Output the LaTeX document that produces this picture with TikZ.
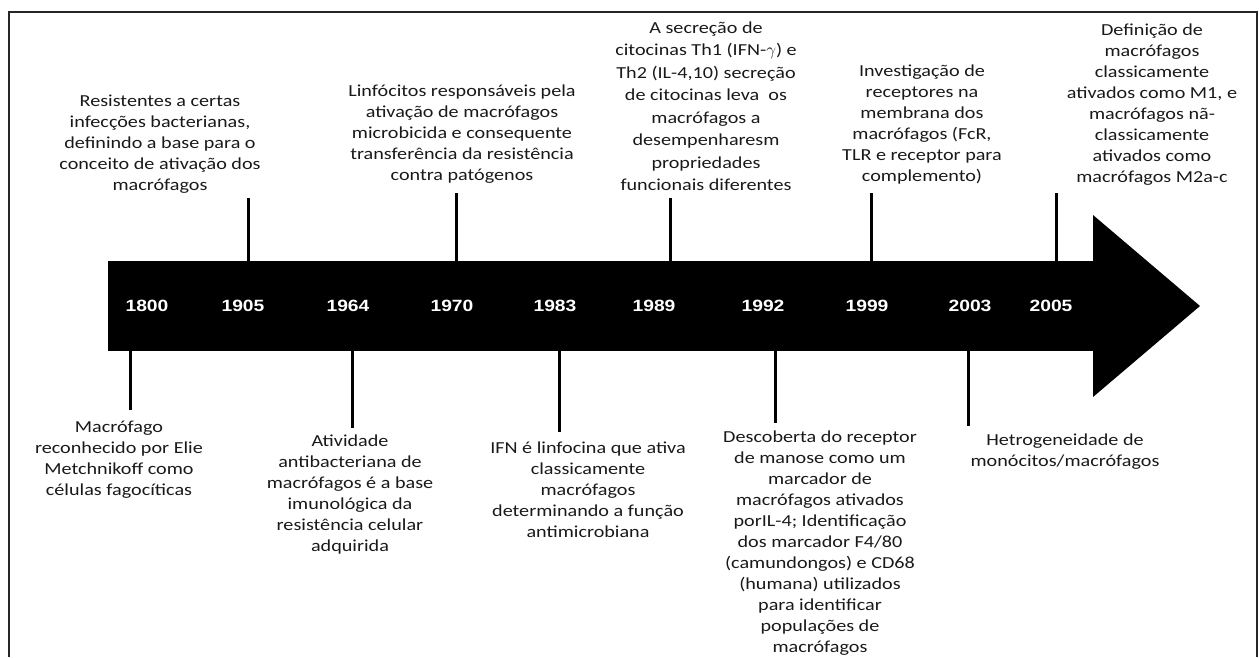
\documentclass[tikz,border=0pt]{standalone}
\usepackage{fontspec}
\setmainfont{Carlito}[FakeStretch=1.2]
\newfontfamily\yearfont{Liberation Sans}[FakeStretch=1.18]
\begin{document}
\begin{tikzpicture}[x=1pt,y=-1pt,
  tick/.style={line width=3pt, black},
  txt/.style={align=center, inner sep=0pt, text=black!90, font=\fontsize{16.8}{21}\selectfont},
  txtwide/.style={txt, font=\fontsize{16.8}{22.5}\selectfont},
  yr/.style={text=white, inner sep=0pt, anchor=base, font=\yearfont\bfseries\fontsize{16.3}{18}\selectfont},
  frame/.style={line width=1.6pt, black!85}]
\useasboundingbox (0,0) rectangle (1259,657);
% frame (open at the bottom)
\coordinate (fA) at (9,657); \coordinate (fB) at (9,12);
\coordinate (fC) at (1257,12); \coordinate (fD) at (1257,657);
\draw[frame] (fA) -- (fB) -- (fC) -- (fD);
% arrow
\node[fill=black, inner sep=0pt, minimum width=985pt, minimum height=90pt, anchor=north west] (bar) at (108,261) {};
\coordinate (hT) at (1093,215); \coordinate (hP) at (1200,306); \coordinate (hB) at (1093,397);
\fill[black] (hT) -- (hP) -- (hB) -- cycle;
\fill[black] (hT |- bar.north) rectangle (hB |- bar.south);
% years
\node[yr] (y1800) at (147,311) {1800};
\node[yr] (y1905) at (243,311) {1905};
\node[yr] (y1964) at (348,311) {1964};
\node[yr] (y1970) at (452,311) {1970};
\node[yr] (y1983) at (555,311) {1983};
\node[yr] (y1989) at (654,311) {1989};
\node[yr] (y1992) at (763,311) {1992};
\node[yr] (y1999) at (867,311) {1999};
\node[yr] (y2003) at (970,311) {2003};
\node[yr] (y2005) at (1051,311) {2005};
% upper ticks
\coordinate (u1905) at (248,198);
\coordinate (u1970) at (456,193);
\coordinate (u1989) at (670,198);
\coordinate (u1999) at (871,193);
\coordinate (u2005) at (1056,193);
\foreach \c in {u1905,u1970,u1989,u1999,u2005} \draw[tick] (\c) -- (\c |- bar.north);
% lower ticks
\coordinate (d1800) at (130,410);
\coordinate (d1964) at (352,428);
\coordinate (d1983) at (559,432);
\coordinate (d1992) at (775,423);
\coordinate (d2003) at (968,426);
\foreach \c in {d1800,d1964,d1983,d1992,d2003} \draw[tick] (\c |- bar.south) -- (\c);
% upper texts
\node[txt, anchor=south] (t1905) at (160,197.3) {\strut Resistentes a certas\\infecções bacterianas,\\definindo a base para o\\conceito de ativação dos\\macrófagos\strut};
\node[txt, anchor=south] (t1970) at (462,187.3) {\strut Linfócitos responsáveis pela\\ativação de macrófagos\\microbicida e consequente\\transferência da resistência\\contra patógenos\strut};
\node[txtwide, anchor=south] (t1989) at (706,197.7) {\strut A secreção de\\citocinas Th1 (IFN-$\gamma$) e\\Th2 (IL-4,10) secreção\\de citocinas leva~ os\\macrófagos a\\desempenharesm\\propriedades\\funcionais diferentes\strut};
\node[txt, anchor=south] (t1999) at (922,188.3) {\strut Investigação de\\receptores na\\membrana dos\\macrófagos (FcR,\\TLR e receptor para\\complemento)\strut};
\node[txt, anchor=south] (t2005) at (1152,189.3) {\strut Definição de\\macrófagos\\classicamente\\ativados como M1, e\\macrófagos nã-\\classicamente\\ativados como\\macrófagos M2a-c\strut};
% lower texts
\node[txt, anchor=north] (t1800) at (119,417.3) {\strut Macrófago\\reconhecido por Elie\\Metchnikoff como\\células fagocíticas\strut};
\node[txt, anchor=north] (t1964) at (350,431.3) {\strut Atividade\\antibacteriana de\\macrófagos é a base\\imunológica da\\resistência celular\\adquirida\strut};
\node[txt, anchor=north] (t1983) at (588,438.3) {\strut IFN é linfocina que ativa\\classicamente\\macrófagos\\determinando a função\\antimicrobiana\strut};
\node[txt, anchor=north] (t1992) at (820,427.3) {\strut Descoberta do receptor\\de manose como um\\marcador de\\macrófagos ativados\\porIL-4; Identificação\\dos marcador F4/80\\(camundongos) e CD68\\(humana) utilizados\\para identificar\\populações de\\macrófagos\strut};
\node[txt, anchor=north] (t2003) at (1065,430.3) {\strut Hetrogeneidade de\\monócitos/macrófagos\strut};
\end{tikzpicture}
\end{document}
